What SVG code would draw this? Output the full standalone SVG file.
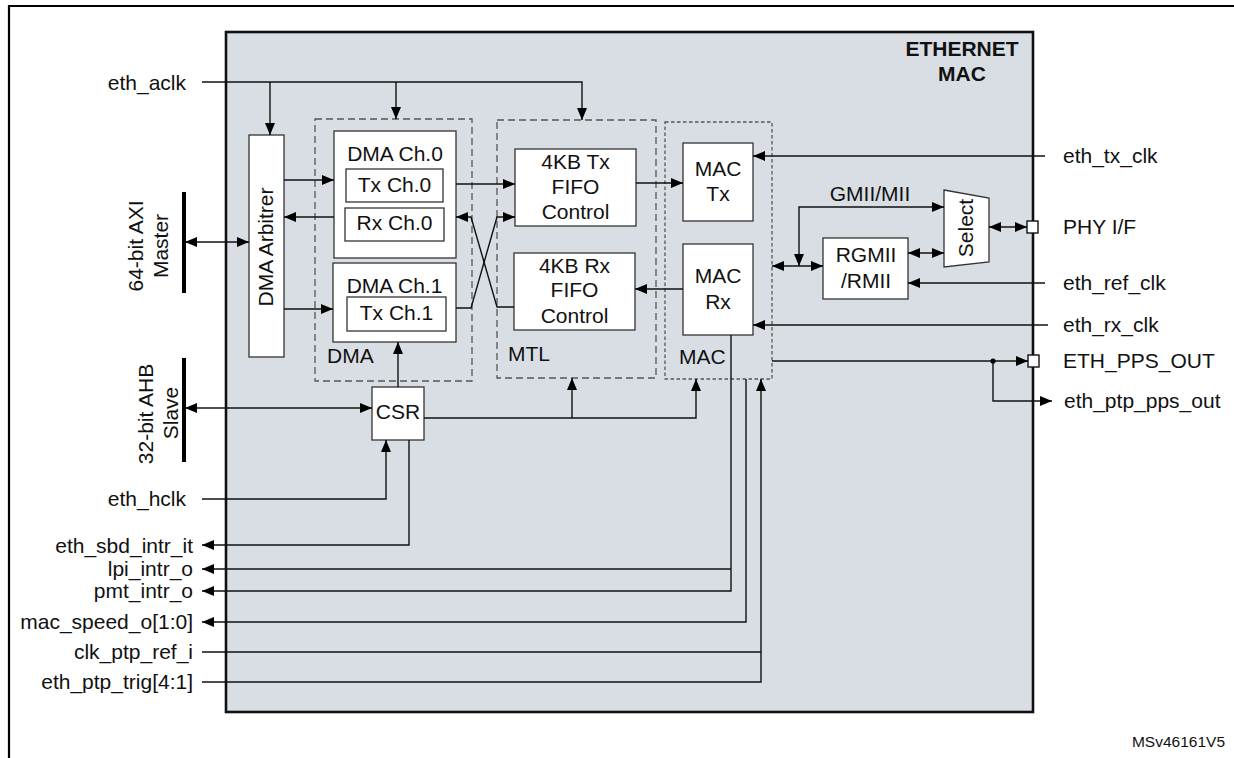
<svg xmlns="http://www.w3.org/2000/svg" width="1234" height="758" viewBox="0 0 1234 758">
<style>
text{font-family:"Liberation Sans",Arial,sans-serif;font-size:21px;fill:#111}
.b{font-weight:bold}
.m{text-anchor:middle}
.e{text-anchor:end}
.box{fill:#fff;stroke:#333;stroke-width:1.3}
.dash{fill:none;stroke:#555;stroke-width:1.3;stroke-dasharray:7 4}
.dot{fill:none;stroke:#555;stroke-width:1.3;stroke-dasharray:3.5 2.5}
.c{fill:none;stroke:#111;stroke-width:1.4}
.ca{fill:none;stroke:#111;stroke-width:1.4;marker-end:url(#ah)}
.cb{fill:none;stroke:#111;stroke-width:1.4;marker-end:url(#ah);marker-start:url(#ah)}
.bar{stroke:#000;stroke-width:4}
</style>
<defs>
<marker id="ah" viewBox="0 0 12 10" refX="12" refY="5" markerWidth="12" markerHeight="10" markerUnits="userSpaceOnUse" orient="auto-start-reverse">
<path d="M0,0 L12,5 L0,10 z" fill="#000"/>
</marker>
</defs>
<rect width="1234" height="758" fill="#fff"/>
<path d="M9,758 V6 H1234" fill="none" stroke="#000" stroke-width="2.2"/>

<g id="ethernet-mac">
<rect x="226" y="32" width="807" height="680" fill="#d9dee5" stroke="#111" stroke-width="2.6"/>
<text class="b m" x="962" y="56">ETHERNET</text>
<text class="b m" x="962" y="81">MAC</text>
</g>

<g id="dma-group">
<rect class="dash" x="315" y="119" width="157" height="262"/>
<text x="327" y="363">DMA</text>
</g>
<g id="mtl-group">
<rect class="dash" x="497" y="120" width="159" height="258"/>
<text x="508" y="361">MTL</text>
</g>
<g id="mac-group">
<rect class="dot" x="665" y="122" width="107" height="257"/>
<text x="679" y="364">MAC</text>
</g>

<g id="dma-arbiter">
<rect class="box" x="249" y="135" width="35" height="222"/>
<text class="m" transform="translate(273,247) rotate(-90)">DMA Arbitrer</text>
</g>

<g id="dma-ch0">
<rect class="box" x="334" y="131" width="122" height="127"/>
<text class="m" x="395" y="161">DMA Ch.0</text>
<rect class="box" x="346" y="169" width="97" height="33"/>
<text class="m" x="394.5" y="192">Tx Ch.0</text>
<rect class="box" x="345" y="208" width="99" height="33"/>
<text class="m" x="394.5" y="230">Rx Ch.0</text>
</g>

<g id="dma-ch1">
<rect class="box" x="333" y="263" width="123" height="79"/>
<text class="m" x="394.5" y="293">DMA Ch.1</text>
<rect class="box" x="347" y="297" width="99" height="34"/>
<text class="m" x="396.5" y="320">Tx Ch.1</text>
</g>

<g id="tx-fifo">
<rect class="box" x="515" y="149" width="121" height="77"/>
<text class="m" x="575.5" y="169">4KB Tx</text>
<text class="m" x="575.5" y="194">FIFO</text>
<text class="m" x="575.5" y="219">Control</text>
</g>

<g id="rx-fifo">
<rect class="box" x="514" y="253" width="121" height="77"/>
<text class="m" x="574.5" y="273">4KB Rx</text>
<text class="m" x="574.5" y="297">FIFO</text>
<text class="m" x="574.5" y="323">Control</text>
</g>

<g id="mac-tx">
<rect class="box" x="683" y="143" width="70" height="78"/>
<text class="m" x="718" y="176">MAC</text>
<text class="m" x="718" y="201">Tx</text>
</g>

<g id="mac-rx">
<rect class="box" x="683" y="244" width="70" height="91"/>
<text class="m" x="718" y="283">MAC</text>
<text class="m" x="718" y="309">Rx</text>
</g>

<g id="rgmii">
<rect class="box" x="823" y="238" width="85" height="61"/>
<text class="m" x="866" y="262">RGMII</text>
<text class="m" x="866" y="288">/RMII</text>
</g>

<g id="select">
<polygon points="944,190 989,198 989,262 944,267" fill="#fff" stroke="#333" stroke-width="1.3"/>
<text class="m" transform="translate(973,228) rotate(-90)">Select</text>
</g>

<g id="csr">
<rect class="box" x="372" y="387" width="52" height="53"/>
<text class="m" x="398" y="419">CSR</text>
</g>

<g id="axi-master">
<line class="bar" x1="184" y1="192" x2="184" y2="293"/>
<text class="m" transform="translate(143,246) rotate(-90)">64-bit AXI</text>
<text class="m" transform="translate(168,246) rotate(-90)">Master</text>
</g>

<g id="ahb-slave">
<line class="bar" x1="184" y1="358" x2="184" y2="462"/>
<text class="m" transform="translate(153,414) rotate(-90)">32-bit AHB</text>
<text class="m" transform="translate(178,413) rotate(-90)">Slave</text>
</g>

<g id="phy-port">
<rect x="1027" y="221" width="11" height="12" fill="#fff" stroke="#111" stroke-width="1.4"/>
</g>
<g id="pps-port">
<rect x="1028" y="355" width="11" height="12" fill="#fff" stroke="#111" stroke-width="1.4"/>
</g>

<g id="signal-labels">
<text class="e" x="186" y="90">eth_aclk</text>
<text class="e" x="186" y="506">eth_hclk</text>
<text class="e" x="193" y="553">eth_sbd_intr_it</text>
<text class="e" x="193" y="576">lpi_intr_o</text>
<text class="e" x="193" y="598">pmt_intr_o</text>
<text class="e" x="193" y="629">mac_speed_o[1:0]</text>
<text class="e" x="193" y="659">clk_ptp_ref_i</text>
<text class="e" x="193" y="689">eth_ptp_trig[4:1]</text>
<text x="1063" y="163">eth_tx_clk</text>
<text x="1063" y="234">PHY I/F</text>
<text x="1063" y="290">eth_ref_clk</text>
<text x="1063" y="332">eth_rx_clk</text>
<text x="1063" y="368">ETH_PPS_OUT</text>
<text x="1064" y="408">eth_ptp_pps_out</text>
<text x="870" y="201" class="m">GMII/MII</text>
<text class="e" x="1225" y="747" style="font-size:15.5px">MSv46161V5</text>
</g>

<g id="connectors">
<path class="ca" d="M202,82 H582 V120"/>
<path class="ca" d="M270,82 V135"/>
<path class="ca" d="M396,82 V119"/>
<path class="cb" d="M185,242 H249"/>
<path class="ca" d="M284,180 H334"/>
<path class="ca" d="M334,217 H284"/>
<path class="ca" d="M284,309 H333"/>
<path class="ca" d="M456,184 H515"/>
<path class="ca" d="M456,308 H471 L497,217 H515"/>
<path class="ca" d="M514,307 H497 L471,217 H456"/>
<path class="ca" d="M636,183 H683"/>
<path class="ca" d="M683,289 H635"/>
<path class="ca" d="M1045,156 H753"/>
<path class="ca" d="M1048,325 H753"/>
<path class="ca" d="M1045,283 H908"/>
<path class="cb" d="M772,266 H823"/>
<path class="cb" d="M799,266 V207 H944"/>
<path class="cb" d="M908,253 H944"/>
<path class="cb" d="M989,227 H1027"/>
<path class="ca" d="M772,361 H1028"/>
<path class="ca" d="M993,361 V401 H1052"/>
<circle cx="993" cy="361" r="2.6" fill="#000"/>
<path class="cb" d="M185,408 H372"/>
<path class="ca" d="M398,387 V342"/>
<path class="ca" d="M424,418 H696 V379"/>
<path class="ca" d="M572,418 V378"/>
<path class="ca" d="M202,499 H386 V440"/>
<path class="ca" d="M409,440 V545 H202"/>
<path class="ca" d="M731,335 V591 H202"/>
<path class="ca" d="M731,569 H202"/>
<path class="ca" d="M746,379 V622 H202"/>
<path class="ca" d="M202,652 H761 V379"/>
<path class="c" d="M202,682 H761 V652"/>
</g>
</svg>
